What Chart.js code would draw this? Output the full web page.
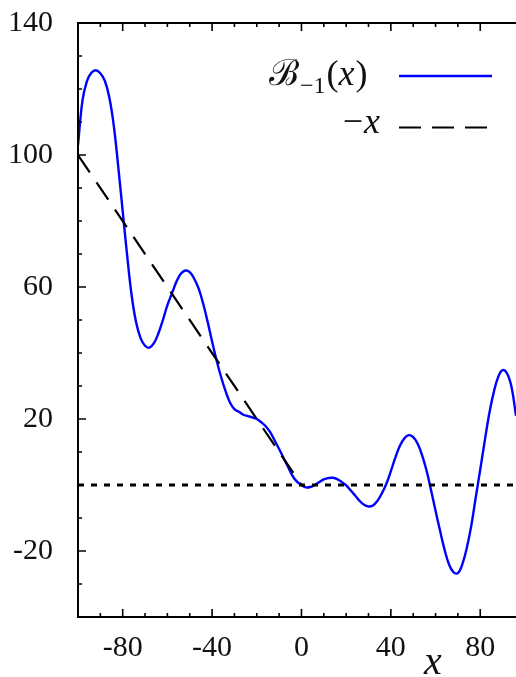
<!DOCTYPE html>
<html lang="en">
<head>
  <meta charset="UTF-8">
  <title>B_{-1}(x) against -x</title>
  <script src="https://cdn.jsdelivr.net/npm/chart.js"></script>
  <style>
    body {
      margin: 0;
      background: #fff;
    }

    canvas {
      display: block;
    }
  </style>
</head>
<body>
  <canvas id="besselChart" width="516" height="677"></canvas>

  <script>
    // sample points of B_{-1}(x)
    const xs = [
      -100, -98, -96, -94, -92, -90, -88, -86, -84, -82,
      -80, -78, -76, -74, -72, -70, -68, -66, -64, -62,
      -60, -58, -56, -54, -52, -50, -48, -46, -44, -42,
      -40, -38, -36, -34, -32, -30, -28, -26, -24, -22,
      -20, -18, -16, -14, -12, -10, -8, -6, -4, -2,
      0, 2, 4, 6, 8, 10, 12, 14, 16, 18,
      20, 22, 24, 26, 28, 30, 32, 34, 36, 38,
      40, 42, 44, 46, 48, 50, 52, 54, 56, 58,
      60, 62, 64, 66, 68, 70, 72, 74, 76, 78,
      80, 82, 84, 86, 88, 90, 92, 94, 96
    ];
    const bValues = [
      103, 116.5, 122.4, 124.9, 125.7, 124.8, 122.5, 117.5, 109, 96.5,
      83, 69.5, 57.5, 49.3, 44.5, 42.2, 41.6, 43, 46, 50,
      54.5, 58, 61.5, 64, 65, 64.5, 62.5, 59.5, 55, 49.5,
      43.5, 37.8, 32.8, 28.5, 25, 23, 22.2, 21.3, 20.9, 20.5,
      20, 19, 17.8, 16, 13.5, 10.9, 8.2, 5.5, 2.8, 1,
      0, -0.7, -0.6, 0, 0.9, 1.7, 2.1, 2.2, 1.8, 0.9,
      -0.1, -1.6, -3.2, -4.8, -6, -6.5, -6.2, -4.8, -2.5, 0.4,
      4.2, 8.3, 11.8, 14.1, 15.1, 14.5, 12.5, 9, 4.3, -1.6,
      -7.8, -13.8, -19.5, -24, -26.4, -26.7, -24, -19, -12.3, -3.7,
      4.7, 13.3, 21.5, 28, 32.7, 34.8, 33.8, 29.7, 21
    ];

    // reference line -x
    const negX = [-100, 0];
    const negY = [100, 0];

    // zero level
    const zeroX = [-100, 96];
    const zeroY = [0, 0];

    const xLabels = [-80, -40, 0, 40, 80];
    const yLabels = [-20, 20, 60, 100, 140];

    const serif = '"Liberation Serif"';
    const toPoints = (a, b) => a.map((v, i) => ({ x: v, y: b[i] }));

    Chart.defaults.font.family = serif;

    // spines, inward ticks, legend and axis title
    const frame = {
      id: 'frame',
      afterDatasetsDraw(chart) {
        const { ctx, chartArea: a, scales: { x, y } } = chart;
        ctx.save();
        ctx.strokeStyle = '#000';
        ctx.lineWidth = 2;
        ctx.beginPath();
        ctx.moveTo(a.right + 2, a.top);
        ctx.lineTo(a.left, a.top);
        ctx.lineTo(a.left, a.bottom);
        ctx.lineTo(a.right + 2, a.bottom);
        ctx.stroke();

        ctx.lineWidth = 1.6;
        ctx.beginPath();
        x.ticks.forEach(t => {
          if (t.value % 10 !== 0) return;
          const px = x.getPixelForValue(t.value);
          const len = xLabels.includes(t.value) ? 8 : 4;
          ctx.moveTo(px, a.bottom);
          ctx.lineTo(px, a.bottom - len);
          ctx.moveTo(px, a.top);
          ctx.lineTo(px, a.top + len);
        });
        y.ticks.forEach(t => {
          if (t.value % 10 !== 0) return;
          const py = y.getPixelForValue(t.value);
          const len = yLabels.includes(t.value) ? 8 : 4;
          ctx.moveTo(a.left, py);
          ctx.lineTo(a.left + len, py);
        });
        ctx.stroke();
        ctx.restore();
      },
      afterDraw(chart) {
        const ctx = chart.ctx;
        ctx.save();
        ctx.fillStyle = '#111';
        ctx.textBaseline = 'alphabetic';

        // row 1: script B with subscript, then (x)
        const big = '36px ' + serif;
        const ital = 'italic 36px ' + serif;
        const sub = '24px ' + serif;
        let cx = 269;
        ctx.font = '36px "DejaVu Serif"';
        ctx.fillText('\u212C', cx, 85);
        cx += ctx.measureText('\u212C').width + 1;
        ctx.font = sub;
        ctx.fillText('\u22121', cx, 93);
        cx += ctx.measureText('\u22121').width + 1;
        ctx.font = big;
        ctx.fillText('(', cx, 85);
        cx += ctx.measureText('(').width;
        ctx.font = ital;
        ctx.fillText('x', cx, 85);
        cx += ctx.measureText('x').width + 1;
        ctx.font = big;
        ctx.fillText(')', cx, 85);

        // row 2: -x, right aligned to the same edge
        ctx.font = ital;
        const xw = ctx.measureText('x').width;
        ctx.fillText('x', 380 - xw, 133);
        ctx.font = big;
        ctx.textAlign = 'right';
        ctx.fillText('\u2212', 380 - xw - 1, 133);
        ctx.textAlign = 'left';

        // legend samples
        ctx.lineWidth = 2.4;
        ctx.strokeStyle = '#0000ff';
        ctx.beginPath();
        ctx.moveTo(399, 76);
        ctx.lineTo(492, 76);
        ctx.stroke();
        ctx.lineWidth = 2.2;
        ctx.strokeStyle = '#000';
        ctx.setLineDash([22, 11]);
        ctx.beginPath();
        ctx.moveTo(399, 127.5);
        ctx.lineTo(489, 127.5);
        ctx.stroke();
        ctx.setLineDash([]);

        // x axis title
        ctx.font = 'italic 40px ' + serif;
        ctx.textAlign = 'center';
        ctx.fillText('x', 433, 674);
        ctx.restore();
      }
    };

    const ctx = document.getElementById('besselChart').getContext('2d');

    new Chart(ctx, {
      type: 'line',
      data: {
        datasets: [
          {
            label: 'B_{-1}(x)',
            data: toPoints(xs, bValues),
            borderColor: '#0000ff',
            borderWidth: 2.4,
            tension: 0.4,
            pointRadius: 0,
            fill: false,
            order: 3
          },
          {
            label: '-x',
            data: toPoints(negX, negY),
            borderColor: '#000',
            borderWidth: 2.2,
            borderDash: [21, 12],
            pointRadius: 0,
            fill: false,
            order: 1
          },
          {
            label: 'zero',
            data: toPoints(zeroX, zeroY),
            borderColor: '#000',
            borderWidth: 3,
            borderDash: [6, 7],
            pointRadius: 0,
            fill: false,
            order: 2
          }
        ]
      },
      options: {
        responsive: false,
        animation: false,
        devicePixelRatio: 1,
        layout: {
          padding: { top: 23, right: 0, left: 0, bottom: 0 }
        },
        plugins: {
          legend: { display: false },
          tooltip: { enabled: false }
        },
        scales: {
          x: {
            type: 'linear',
            min: -100,
            max: 96,
            grid: { display: false },
            border: { display: false },
            afterFit(scale) {
              scale.height = 60;
              scale.paddingLeft = 0;
              scale.paddingRight = 0;
            },
            ticks: {
              stepSize: 10,
              autoSkip: false,
              maxRotation: 0,
              padding: 5,
              color: '#111',
              font: { family: serif, size: 30 },
              callback: v => xLabels.includes(v) ? String(v) : ''
            }
          },
          y: {
            type: 'linear',
            min: -40,
            max: 140,
            grid: { display: false },
            border: { display: false },
            afterFit(scale) {
              scale.width = 78;
              scale.paddingTop = 0;
              scale.paddingBottom = 0;
            },
            ticks: {
              stepSize: 10,
              autoSkip: false,
              padding: 17,
              color: '#111',
              font: { family: serif, size: 30 },
              callback: v => yLabels.includes(v) ? String(v) : ''
            }
          }
        }
      },
      plugins: [frame]
    });
  </script>
</body>
</html>
